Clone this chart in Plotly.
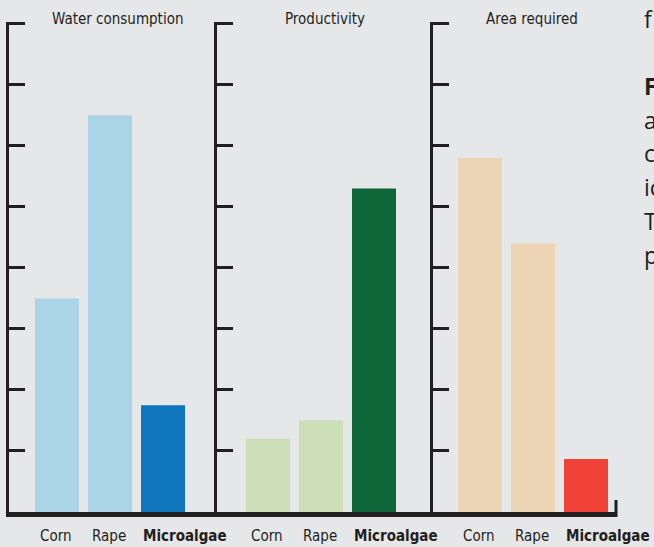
import plotly.graph_objects as go

# ---- data -------------------------------------------------------------
categories = ["Corn", "Rape", "Microalgae"]
panel_titles = ["Water consumption", "Productivity", "Area required"]
water_consumption = [3.5, 6.5, 1.75]
productivity = [1.2, 1.5, 5.3]
area_required = [5.8, 4.4, 0.87]
y_ticks = [0, 1, 2, 3, 4, 5, 6, 7, 8]

# ---- styling ----------------------------------------------------------
W, H = 654, 547
BOTTOM = 512                     # pixel row of the value 0
UNIT = 61.0                      # px per y unit
Y_MAX = 8.03                     # a hair above the last tick so it is drawn
TOP = BOTTOM - Y_MAX * UNIT
BG = "#e6e7e9"
INK = "#231f20"
panel_colors = [
    ["#acd4e7", "#acd4e7", "#0f75bd"],
    ["#cbdeb8", "#cbdeb8", "#0f6638"],
    ["#ecd5b4", "#ecd5b4", "#ef4136"],
]
# panel pixel extents (axis line -> panel end) and first bar centre offset
panel_px = [(8.5, 216.5), (216.5, 432.5), (432.5, 616)]
first_offset = [48.5, 51.5, 47.5]
title_centers = [117, 325, 531.5]
PITCH = 53.0                     # px between bar centres
BAR_W = 44.0                     # px bar width
COND = "DejaVu Sans Condensed, Liberation Sans Narrow, sans-serif"
BODY = "Open Sans, Noto Sans, sans-serif"
LABEL_SIZE = 15


def py(ypx):
    """pixel row -> paper y"""
    return (BOTTOM - ypx) / (BOTTOM - TOP)


series = [water_consumption, productivity, area_required]
fig = go.Figure()
layout = dict(
    width=W, height=H,
    margin=dict(l=0, r=0, t=TOP, b=H - BOTTOM),
    paper_bgcolor=BG, plot_bgcolor=BG,
    showlegend=False,
    font=dict(family=COND, color=INK),
)
annotations = []

for i, vals in enumerate(series):
    k = "" if i == 0 else str(i + 1)
    x0, x1 = panel_px[i]
    width_px = x1 - x0
    off = first_offset[i]
    fig.add_trace(go.Bar(
        x=list(range(len(categories))), y=vals,
        width=BAR_W / PITCH,
        marker=dict(color=panel_colors[i], line=dict(width=0)),
        xaxis="x" + k, yaxis="y" + k,
        hoverinfo="skip",
    ))
    layout["xaxis" + k] = dict(
        domain=[x0 / W, x1 / W],
        range=[-off / PITCH, (width_px - off) / PITCH],
        showgrid=False, zeroline=False, showticklabels=False, ticks="",
        showline=True, linewidth=5, linecolor=INK,
        anchor="y" + k, fixedrange=True,
    )
    layout["yaxis" + k] = dict(
        domain=[0, 1], range=[0, Y_MAX],
        tickvals=y_ticks, ticks="inside", ticklen=16, tickwidth=3,
        tickcolor=INK, showticklabels=False,
        showgrid=False, zeroline=False,
        showline=True, linewidth=3, linecolor=INK,
        anchor="x" + k, fixedrange=True,
    )
    # panel title
    annotations.append(dict(
        text=panel_titles[i], xref="paper", yref="paper",
        x=title_centers[i] / W, y=py(19), xanchor="center", yanchor="middle",
        showarrow=False, font=dict(family=COND, size=LABEL_SIZE, color=INK),
    ))
    # category labels
    for j, name in enumerate(categories):
        bold = name == "Microalgae"
        annotations.append(dict(
            text=f"<b>{name}</b>" if bold else name,
            xref="x" + k, yref="paper", x=j, y=py(536),
            xanchor="left" if bold else "center",
            xshift=-BAR_W / 2 if bold else -1,
            yanchor="middle", showarrow=False,
            font=dict(family=COND, size=LABEL_SIZE, color=INK),
        ))

# short closing tick at the right end of the baseline
fig.add_shape(type="line", xref="x3 domain", yref="paper",
              x0=1, x1=1, y0=py(517), y1=py(500),
              line=dict(color=INK, width=3))

# edge of the neighbouring body text column
body_lines = [("f", 19), ("<b>F</b>", 86), ("a", 120), ("c", 153),
              ("ic", 187), ("T", 221), ("p", 255)]
for txt, ypx in body_lines:
    annotations.append(dict(
        text=txt, xref="paper", yref="paper", x=642 / W, y=py(ypx),
        xanchor="left", yanchor="middle", showarrow=False,
        font=dict(family=BODY, size=23, color=INK),
    ))

layout["annotations"] = annotations
fig.update_layout(**layout)
fig.write_html("out.html")
